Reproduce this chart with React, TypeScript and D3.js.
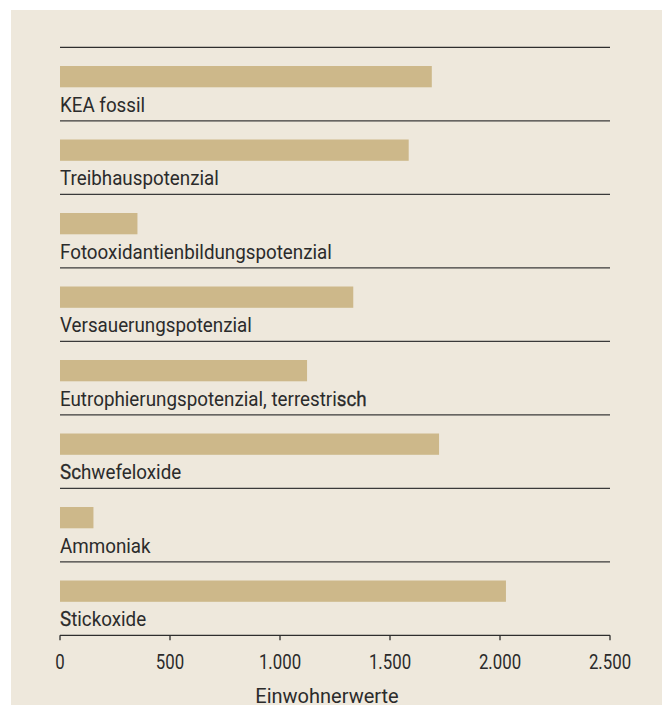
import React from "react";
import * as d3 from "d3";

const categories = [
  "KEA fossil",
  "Treibhauspotenzial",
  "Fotooxidantienbildungspotenzial",
  "Versauerungspotenzial",
  "Eutrophierungspotenzial, terrestrisch",
  "Schwefeloxide",
  "Ammoniak",
  "Stickoxide",
];
const values = [1690, 1585, 352, 1333, 1123, 1723, 152, 2027];
const darkerParts = ["", "", "", "", "sch", "Sc", "", "S"];
const tickValues = [0, 500, 1000, 1500, 2000, 2500];
const tickLabels = ["0", "500", "1.000", "1.500", "2.000", "2.500"];
const axisTitle = "Einwohnerwerte";

const W = 663;
const H = 715;
const FONT = "Roboto, 'Liberation Sans', Arial, sans-serif";
const TXT = "#2b2b2b";

function Label({ text, dark, x, y }: { text: string; dark: string; x: number; y: number }) {
  let parts: { s: string; d: boolean }[] = [{ s: text, d: false }];
  if (dark) {
    const idx = text.lastIndexOf(dark);
    if (idx >= 0) {
      parts = [
        { s: text.slice(0, idx), d: false },
        { s: dark, d: true },
        { s: text.slice(idx + dark.length), d: false },
      ].filter((p) => p.s.length > 0);
    }
  }
  return (
    <text
      transform={`translate(${x},${y}) scale(0.94,1)`}
      fontFamily={FONT}
      fontSize={20}
      fill={TXT}
      style={{ whiteSpace: "pre" }}
    >
      {parts.map((p, k) => (
        <tspan key={k} stroke={p.d ? TXT : "none"} strokeWidth={p.d ? 0.3 : 0}>
          {p.s}
        </tspan>
      ))}
    </text>
  );
}

export default function App() {
  const x = d3.scaleLinear().domain([0, 2500]).range([60, 610]);
  const y = d3.scaleBand<string>().domain(categories).range([47.3, 635.3]).padding(0);
  const bw = y.bandwidth();
  const axisY = y.range()[1];

  return (
    <svg
      width={W}
      height={H}
      style={{ position: "absolute", left: 0, top: 0, background: "#ffffff" }}
    >
      <rect x={11} y={10} width={651} height={695} fill="#eee8dc" />
      <line x1={x(0)} x2={x(2500)} y1={y(categories[0])} y2={y(categories[0])} stroke="#2e2e2e" strokeWidth={1.3} />
      {categories.map((c, i) => {
        const y0 = y(c) as number;
        return (
          <g key={c}>
            <rect x={x(0)} y={y0 + 18.7} width={x(values[i]) - x(0)} height={21.3} fill="#cdb88a" />
            <Label text={c} dark={darkerParts[i]} x={x(0)} y={y0 + 64.4} />
            {i < categories.length - 1 && (
              <line x1={x(0)} x2={x(2500)} y1={y0 + bw} y2={y0 + bw} stroke="#3a3a3a" strokeWidth={1.3} />
            )}
          </g>
        );
      })}
      <line x1={x(0)} x2={x(2500)} y1={axisY} y2={axisY} stroke="#2e2e2e" strokeWidth={1.3} />
      {tickValues.map((t, i) => (
        <g key={t}>
          <line x1={x(t)} x2={x(t)} y1={axisY} y2={axisY + 5} stroke="#2e2e2e" strokeWidth={1.3} />
          <text
            transform={`translate(${x(t)},669) scale(0.82,1)`}
            textAnchor="middle"
            fontFamily={FONT}
            fontSize={20.5}
            fill={TXT}
          >
            {tickLabels[i]}
          </text>
        </g>
      ))}
      <text x={(x(0) + x(2500)) / 2 - 8} y={702.5} textAnchor="middle" fontFamily={FONT} fontSize={20} fill={TXT}>
        {axisTitle}
      </text>
    </svg>
  );
}
